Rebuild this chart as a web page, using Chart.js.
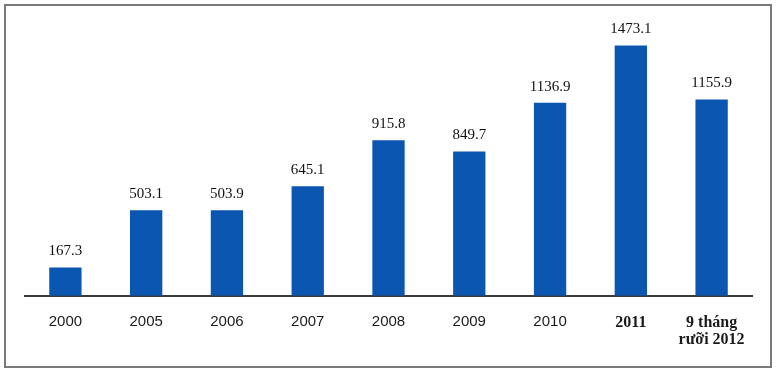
<!DOCTYPE html>
<html>
<head>
<meta charset="utf-8">
<script src="https://cdn.jsdelivr.net/npm/chart.js@4/dist/chart.umd.min.js"></script>
<style>
html,body{margin:0;padding:0;background:#fff;}
#wrap{position:relative;width:777px;height:373px;}
</style>
</head>
<body>
<div id="wrap"><canvas id="c" width="777" height="373"></canvas></div>
<script>
const categories = ["2000","2005","2006","2007","2008","2009","2010","2011",["9 tháng","rưỡi 2012"]];
const values = [167.3, 503.1, 503.9, 645.1, 915.8, 849.7, 1136.9, 1473.1, 1155.9];
const valueLabels = ["167.3","503.1","503.9","645.1","915.8","849.7","1136.9","1473.1","1155.9"];

const framePlugin = {
  id: 'frame',
  beforeDraw(chart) {
    const c = chart.ctx;
    c.save();
    c.fillStyle = '#fff';
    c.fillRect(0, 0, chart.width, chart.height);
    c.strokeStyle = '#7a7a7a';
    c.lineWidth = 2;
    c.strokeRect(5, 5, 766, 362);
    c.restore();
  }
};

const labelPlugin = {
  id: 'valueLabels',
  afterDatasetsDraw(chart) {
    const c = chart.ctx;
    const meta = chart.getDatasetMeta(0);
    c.save();
    c.font = '15px "Liberation Serif", serif';
    c.fillStyle = '#111';
    c.textAlign = 'center';
    c.textBaseline = 'middle';
    meta.data.forEach((bar, i) => {
      c.fillText(valueLabels[i], bar.x, bar.y - 16);
    });
    c.restore();
  }
};

new Chart(document.getElementById('c'), {
  type: 'bar',
  data: {
    labels: categories,
    datasets: [{
      data: values,
      backgroundColor: '#0b56b0',
      borderWidth: 0,
      barPercentage: 0.4,
      categoryPercentage: 1.0
    }]
  },
  options: {
    responsive: false,
    animation: false,
    devicePixelRatio: 1,
    layout: { padding: { left: 25, right: 25, top: 24, bottom: 6 } },
    plugins: { legend: { display: false }, tooltip: { enabled: false } },
    scales: {
      x: {
        grid: { display: false, drawTicks: false },
        border: { display: true, color: '#3a3a3a', width: 2 },
        ticks: {
          padding: 18,
          maxRotation: 0,
          autoSkip: false,
          color: '#1a1a1a',
          font: (ctx) => ctx.index >= 7
            ? { family: '"Liberation Serif", serif', size: 16, weight: 'bold', lineHeight: 1.1 }
            : { family: '"Liberation Sans", sans-serif', size: 15, weight: 'normal', lineHeight: 1.1 }
        }
      },
      y: {
        display: false,
        min: 0,
        max: 1600
      }
    }
  },
  plugins: [framePlugin, labelPlugin]
});
</script>
</body>
</html>
